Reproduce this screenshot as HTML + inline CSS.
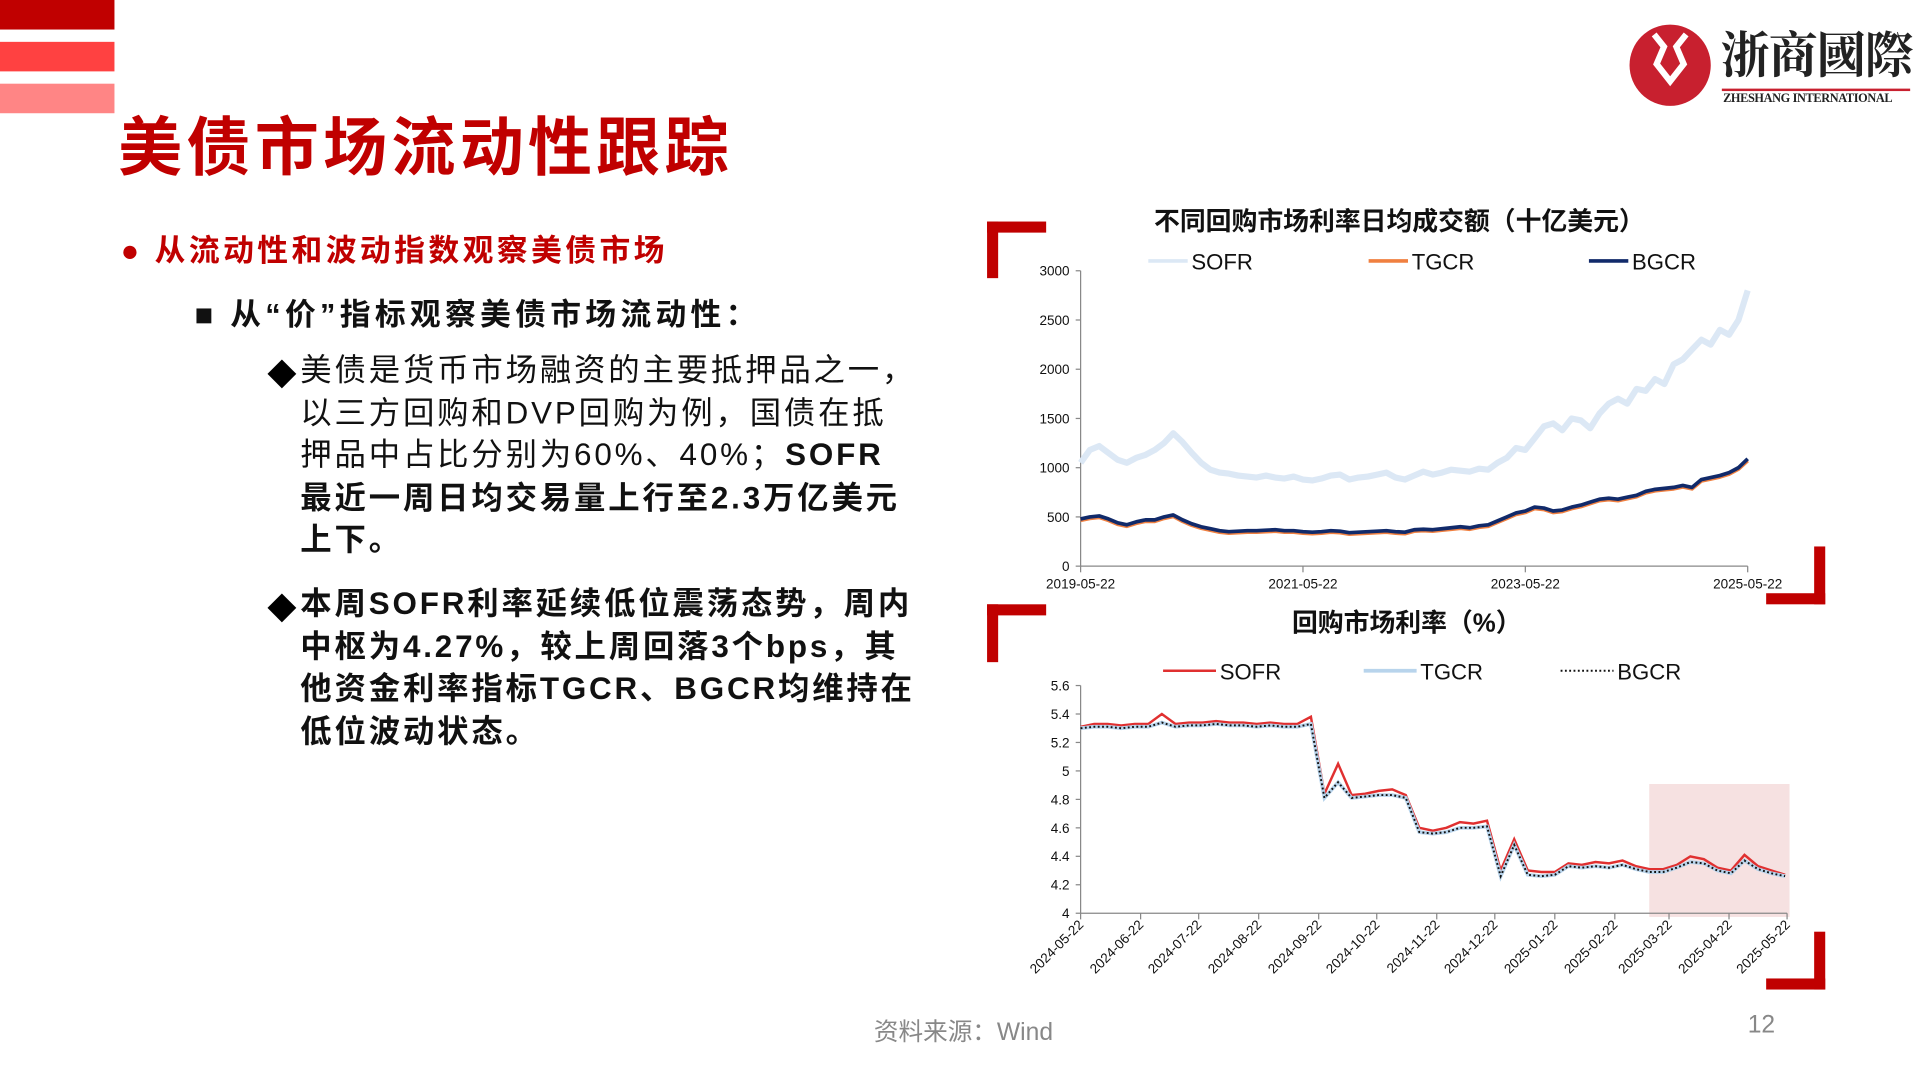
<!DOCTYPE html>
<html><head><meta charset="utf-8">
<style>
html,body{margin:0;padding:0;background:#fff;width:1920px;height:1080px;overflow:hidden}
#wrap{position:absolute;left:0;top:0;width:1560px;height:878px;transform:scale(1.230769);transform-origin:0 0;font-family:"Liberation Sans","Noto Sans CJK SC",sans-serif}
.abs{position:absolute;white-space:nowrap}
.bar{position:absolute;left:0;width:93px;height:24px}
.p{position:absolute;left:244px;width:560px;font-size:25.5px;line-height:34.5px;color:#111;letter-spacing:2.3px;white-space:nowrap}
</style></head><body>
<div id="wrap">
<div class="bar" style="top:0;background:#c00000"></div>
<div class="bar" style="top:34px;background:#ff4141"></div>
<div class="bar" style="top:68px;background:#ff8585"></div>
<div class="abs" style="left:96px;top:78px;font-size:52px;font-weight:bold;color:#c00000;letter-spacing:3.5px">美债市场流动性跟踪</div>
<div class="abs" style="left:1322px;top:16px;width:232px;height:76px">
 <svg width="232" height="76"><circle cx="35" cy="37" r="33" fill="#c8202f"/><path d="M22 12 L30 22 L24 36 L35 50 L46 36 L40 22 L48 12" fill="none" stroke="#fff" stroke-width="5"/><rect x="77" y="56" width="153" height="2" fill="#c8202f"/></svg>
 <div class="abs" style="left:76px;top:4px;font-size:40px;font-weight:bold;font-family:'Noto Serif CJK SC',serif;color:#222;line-height:46px;letter-spacing:-1px">浙商國際</div>
 <div class="abs" style="left:78px;top:59px;font-size:10px;font-family:'Liberation Serif',serif;font-weight:bold;color:#222;letter-spacing:-0.3px">ZHESHANG INTERNATIONAL</div>
</div>
<div class="abs" style="left:98px;top:184px;font-size:25px;font-weight:bold;color:#c00000;letter-spacing:2.8px">●&nbsp;从流动性和波动指数观察美债市场</div>
<div class="abs" style="left:158px;top:236px;font-size:25px;font-weight:bold;color:#111;letter-spacing:3.5px">■&nbsp;从“价”指标观察美债市场流动性：</div>
<div class="abs" style="left:217px;top:285px;font-size:24px">◆</div>
<div class="p" style="top:284px">美债是货币市场融资的主要抵押品之一，<br>以三方回购和DVP回购为例，国债在抵<br>押品中占比分别为60%、40%；<b>SOFR<br>最近一周日均交易量上行至2.3万亿美元<br>上下。</b></div>
<div class="abs" style="left:217px;top:475px;font-size:24px">◆</div>
<div class="p" style="top:474px;font-weight:bold">本周SOFR利率延续低位震荡态势，周内<br>中枢为4.27%，较上周回落3个bps，其<br>他资金利率指标TGCR、BGCR均维持在<br>低位波动状态。</div>
<div class="abs" style="left:710px;top:822px;font-size:20px;color:#888">资料来源：Wind</div>
<div class="abs" style="left:1420px;top:822px;font-size:20px;color:#888">12</div>

<svg id="ch" class="abs" style="left:0;top:0" width="1560" height="878" font-family="Liberation Sans, Noto Sans CJK SC, sans-serif">
 <g fill="#c00000">
  <rect x="802" y="180" width="48" height="9"/><rect x="802" y="180" width="9" height="46"/>
  <rect x="1474" y="444" width="9" height="47"/><rect x="1435" y="482" width="48" height="9"/>
  <rect x="802" y="491" width="48" height="9"/><rect x="802" y="491" width="9" height="47"/>
  <rect x="1474" y="757" width="9" height="47"/><rect x="1435" y="795" width="48" height="9"/>
 </g>
 <text x="1137" y="187" text-anchor="middle" font-size="21" font-weight="bold" fill="#111">不同回购市场利率日均成交额（十亿美元）</text>
 <text x="1143" y="513" text-anchor="middle" font-size="21" font-weight="bold" fill="#111">回购市场利率（%）</text>
 <g id="c1"></g><g id="c2"></g>
</svg>
</div>
<script>
// Chart 1 data (monthly, 2019-05 .. 2025-05)
const c1Sofr=[1050,1180,1220,1150,1080,1050,1100,1130,
1180,1250,1350,1260,1150,1050,980,950,940,920,910,900,
920,900,890,910,880,870,890,920,930,880,900,910,
930,950,900,880,920,960,930,950,980,970,960,990,
980,1050,1100,1200,1180,1300,1420,1450,1380,1500,1480,1400,
1550,1650,1700,1650,1800,1780,1900,1850,2050,2100,2200,2300,
2250,2400,2350,2500,2800];
const c1Bgcr=[480,500,510,480,440,420,450,470,
470,500,520,470,430,400,380,360,350,355,360,360,
365,370,360,360,350,345,350,360,355,340,345,350,
355,360,350,345,370,375,370,380,390,400,390,410,
420,460,500,540,560,600,590,560,570,600,620,650,
680,690,680,700,720,760,780,790,800,820,800,880,
900,920,950,1000,1090];
const c1Tgcr=[465,485,495,465,425,405,435,455,
455,485,505,455,415,385,365,345,335,340,345,345,
350,355,345,345,335,330,335,345,340,325,330,335,
340,345,335,330,355,360,355,365,375,385,375,395,
405,445,485,525,545,585,575,545,555,585,605,635,
665,675,665,685,705,745,765,775,785,805,785,865,
885,905,935,985,1070];
const c1YTicks=[0,500,1000,1500,2000,2500,3000];
const c1XLabels=["2019-05-22","2021-05-22","2023-05-22","2025-05-22"];
// Chart 2 data (weekly from 2024-05-22)
const c2Sofr=[5.31,5.33,5.33,5.32,5.33,5.33,5.40,5.33,5.34,5.34,5.35,5.34,5.34,5.33,5.34,5.33,5.33,5.38,4.84,5.05,4.83,4.84,4.86,4.87,4.83,4.60,4.58,4.60,4.64,4.63,4.65,4.30,4.52,4.30,4.29,4.29,4.35,4.34,4.36,4.35,4.37,4.33,4.31,4.31,4.34,4.40,4.38,4.32,4.30,4.41,4.33,4.30,4.27];
const c2Tgcr=[5.30,5.31,5.31,5.30,5.31,5.31,5.34,5.31,5.32,5.32,5.33,5.32,5.32,5.31,5.32,5.31,5.31,5.33,4.81,4.92,4.81,4.82,4.83,4.83,4.81,4.57,4.56,4.57,4.60,4.60,4.61,4.26,4.48,4.27,4.26,4.27,4.33,4.32,4.33,4.32,4.34,4.31,4.29,4.29,4.32,4.36,4.35,4.30,4.28,4.37,4.31,4.28,4.26];
const c2Bgcr=c2Tgcr.slice();
const c2YTicks=[4,4.2,4.4,4.6,4.8,5,5.2,5.4,5.6];
const c2XLabels=["2024-05-22","2024-06-22","2024-07-22","2024-08-22","2024-09-22","2024-10-22","2024-11-22","2024-12-22","2025-01-22","2025-02-22","2025-03-22","2025-04-22","2025-05-22"];

const NS="http://www.w3.org/2000/svg";
function mk(p,tag,at){const e=document.createElementNS(NS,tag);for(const k in at)e.setAttribute(k,at[k]);p.appendChild(e);return e;}
function pts(arr,xf,yf){return arr.map((v,i)=>xf(i).toFixed(1)+","+yf(v).toFixed(1)).join(" ");}

// chart 1
(function(){
 const g=document.getElementById('c1');
 const x0=878,x1=1420,yT=220,yB=460;
 const xf=i=>x0+(x1-x0)*i/72;
 const yf=v=>yB-(yB-yT)*v/3000;
 c1YTicks.forEach(t=>{const tx=mk(g,'text',{x:869,y:yf(t)+4,'text-anchor':'end','font-size':11,fill:'#111'});tx.textContent=t;
  
  
  mk(g,'line',{x1:874,x2:878,y1:yf(t),y2:yf(t),stroke:'#888'});});
 mk(g,'line',{x1:x0,x2:x0,y1:yT,y2:yB,stroke:'#888'});
 mk(g,'line',{x1:x0,x2:x1,y1:yB,y2:yB,stroke:'#888'});
 c1XLabels.forEach((l,i)=>{const x=x0+(x1-x0)*i/3;mk(g,'line',{x1:x,x2:x,y1:yB,y2:yB+5,stroke:'#888'});
  const tx=mk(g,'text',{x:x,y:478,'text-anchor':'middle','font-size':11,fill:'#111'});tx.textContent=l;
  
  });
 const s=[[c1Sofr,'#dce8f5','SOFR',933,5],[c1Tgcr,'#f08040','TGCR',1112,3],[c1Bgcr,'#112a6a','BGCR',1291,3]];
 s.forEach(([d,c,n,lx,w])=>{
  const pl=mk(g,'polyline',{points:pts(d,xf,yf),fill:'none',stroke:c,'stroke-width':w,'stroke-linejoin':'round'});
  
  
  const le=mk(g,'g',{});
  
  
  mk(le,'line',{x1:lx,x2:lx+32,y1:212,y2:212,stroke:c,'stroke-width':3});
  const t=mk(le,'text',{x:lx+35,y:219,'font-size':18,fill:'#111'});t.textContent=n;
 });
})();

// chart 2
(function(){
 const g=document.getElementById('c2');
 const x0=878,x1=1452,yT=557,yB=742;
 const xd=d=>x0+(x1-x0)*d/365;
 const xf=i=>xd(i*7);
 const yf=v=>yB-(yB-yT)*(v-4)/1.6;
 const sh=mk(g,'rect',{x:1340,y:637,width:114,height:108,fill:'#f6e1e1'});
 
 
 c2YTicks.forEach(t=>{const tx=mk(g,'text',{x:869,y:yf(t)+4,'text-anchor':'end','font-size':11,fill:'#111'});tx.textContent=String(+t.toFixed(1));
  
  
  mk(g,'line',{x1:874,x2:878,y1:yf(t),y2:yf(t),stroke:'#888'});});
 mk(g,'line',{x1:x0,x2:x0,y1:yT,y2:yB,stroke:'#888'});
 mk(g,'line',{x1:x0,x2:x1,y1:yB,y2:yB,stroke:'#888'});
 const base=Date.UTC(2024,4,22);
 c2XLabels.forEach(l=>{const p=l.split('-');const d=(Date.UTC(+p[0],+p[1]-1,+p[2])-base)/864e5;const x=xd(d);
  mk(g,'line',{x1:x,x2:x,y1:yB,y2:yB+5,stroke:'#888'});
  const tx=mk(g,'text',{x:x+3,y:yB+10,'text-anchor':'end','font-size':11,fill:'#111',transform:`rotate(-45 ${x+3} ${yB+10})`});tx.textContent=l;
  
  });
 const s=[[c2Sofr,'#e03030','SOFR',945,{'stroke-width':2}],[c2Tgcr,'#b8d4ec','TGCR',1108,{'stroke-width':3}],[c2Bgcr,'#111','BGCR',1268,{'stroke-width':1.6,'stroke-dasharray':'1.5 2'}]];
 s.forEach(([d,c,n,lx,st])=>{
  const pl=mk(g,'polyline',Object.assign({points:pts(d,xf,yf),fill:'none',stroke:c},st));
  
  
  const le=mk(g,'g',{});
  
  
  mk(le,'line',Object.assign({x1:lx,x2:lx+43,y1:545,y2:545,stroke:c},st));
  const t=mk(le,'text',{x:lx+46,y:552,'font-size':18,fill:'#111'});t.textContent=n;
 });
})();
</script>
</body></html>
